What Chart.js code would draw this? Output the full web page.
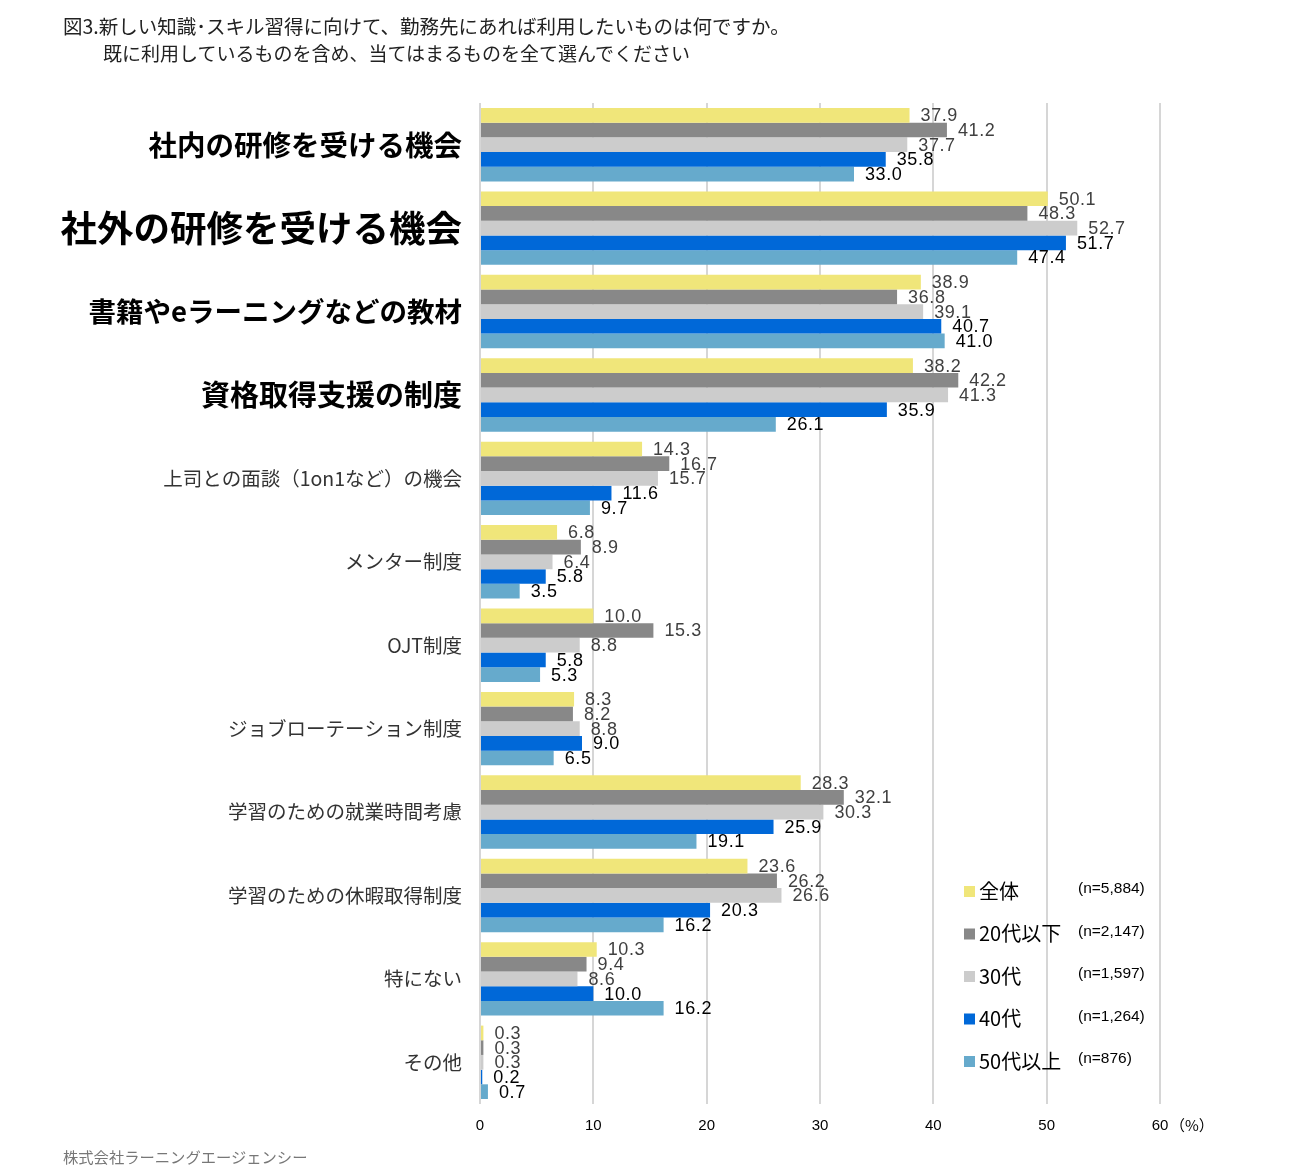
<!DOCTYPE html>
<html>
<head>
<meta charset="utf-8">
<script src="https://cdn.jsdelivr.net/npm/chart.js@4/dist/chart.umd.min.js"></script>
<style>
  body { margin: 0; background: #fff; }
  #wrap { position: relative; width: 1293px; height: 1175px; }
  .t { position: absolute; font-family: "Noto Sans CJK JP", sans-serif; white-space: nowrap; }
</style>
</head>
<body>
<div id="wrap">
  <canvas id="c" width="1293" height="1175"></canvas>
  <div class="t" style="left:63px;top:11px;font-size:19.5px;color:#222;">図3.新しい知識･スキル習得に向けて、勤務先にあれば利用したいものは何ですか。</div>
  <div class="t" style="left:103px;top:39px;font-size:19px;color:#222;">既に利用しているものを含め、当てはまるものを全て選んでください</div>
  <div class="t" style="left:63px;top:1145px;font-size:15.3px;color:#777;">株式会社ラーニングエージェンシー</div>
</div>
<script>
var categories = [
  "社内の研修を受ける機会",
  "社外の研修を受ける機会",
  "書籍やeラーニングなどの教材",
  "資格取得支援の制度",
  "上司との面談（1on1など）の機会",
  "メンター制度",
  "OJT制度",
  "ジョブローテーション制度",
  "学習のための就業時間考慮",
  "学習のための休暇取得制度",
  "特にない",
  "その他"
];
var seriesNames = ["全体", "20代以下", "30代", "40代", "50代以上"];
var sampleSizes = ["(n=5,884)", "(n=2,147)", "(n=1,597)", "(n=1,264)", "(n=876)"];
var all     = [37.9, 50.1, 38.9, 38.2, 14.3, 6.8, 10.0, 8.3, 28.3, 23.6, 10.3, 0.3];
var age20   = [41.2, 48.3, 36.8, 42.2, 16.7, 8.9, 15.3, 8.2, 32.1, 26.2, 9.4, 0.3];
var age30   = [37.7, 52.7, 39.1, 41.3, 15.7, 6.4, 8.8, 8.8, 30.3, 26.6, 8.6, 0.3];
var age40   = [35.8, 51.7, 40.7, 35.9, 11.6, 5.8, 5.8, 9.0, 25.9, 20.3, 10.0, 0.2];
var age50   = [33.0, 47.4, 41.0, 26.1, 9.7, 3.5, 5.3, 6.5, 19.1, 16.2, 16.2, 0.7];
var xTicks  = [0, 10, 20, 30, 40, 50, 60];

var colors = ["#F0E67A", "#888888", "#CCCCCC", "#0068D8", "#66AACC"];
var labelColors = ["#404040", "#404040", "#404040", "#000000", "#000000"];
var catFonts = [
  { family: "Noto Sans CJK JP", size: 28.5, weight: "bold" },
  { family: "Noto Sans CJK JP", size: 36.5, weight: "bold" },
  { family: "Noto Sans CJK JP", size: 27.5, weight: "bold" },
  { family: "Noto Sans CJK JP", size: 29, weight: "bold" }
];
var plainFont = { family: "Noto Sans CJK JP", size: 19.5, weight: "normal" };

var values = [all, age20, age30, age40, age50];
var datasets = seriesNames.map(function (n, i) {
  return {
    label: n,
    data: values[i],
    backgroundColor: colors[i],
    borderWidth: 0,
    barPercentage: 1,
    categoryPercentage: 0.88
  };
});

// value labels at bar ends
var valueLabels = {
  id: "valueLabels",
  afterDatasetsDraw: function (chart) {
    var ctx = chart.ctx;
    ctx.save();
    ctx.font = "18px 'Liberation Sans', Arial, sans-serif";
    ctx.letterSpacing = "0.6px";
    ctx.textBaseline = "middle";
    ctx.textAlign = "left";
    chart.data.datasets.forEach(function (ds, i) {
      var meta = chart.getDatasetMeta(i);
      ctx.fillStyle = labelColors[i];
      meta.data.forEach(function (el, j) {
        ctx.fillText(ds.data[j].toFixed(1), el.x + 11, el.y + 1);
      });
    });
    ctx.restore();
  }
};

// legend in the lower right
var sideLegend = {
  id: "sideLegend",
  afterDraw: function (chart) {
    var ctx = chart.ctx;
    ctx.save();
    ctx.textBaseline = "middle";
    seriesNames.forEach(function (n, i) {
      var y = 891 + i * 42.5;
      ctx.fillStyle = colors[i];
      ctx.fillRect(964, y - 5, 11, 11);
      ctx.fillStyle = "#000";
      ctx.font = "20px 'Noto Sans CJK JP', sans-serif";
      ctx.fillText(n, 979, y);
      ctx.font = "15.5px 'Liberation Sans', Arial, sans-serif";
      ctx.fillText(sampleSizes[i], 1078, y - 2);
    });
    ctx.font = "15px 'Noto Sans CJK JP', sans-serif";
    ctx.fillText("（%）", 1170, 1125);
    ctx.restore();
  }
};

new Chart(document.getElementById("c"), {
  type: "bar",
  data: { labels: categories, datasets: datasets },
  plugins: [valueLabels, sideLegend],
  options: {
    indexAxis: "y",
    responsive: false,
    animation: false,
    layout: { padding: { top: 103, right: 133, left: 0, bottom: 0 } },
    plugins: { legend: { display: false }, tooltip: { enabled: false } },
    scales: {
      x: {
        min: 0,
        max: 60,
        afterBuildTicks: function (s) { s.ticks = xTicks.map(function (v) { return { value: v }; }); },
        afterFit: function (s) { s.height = 71; },
        grid: { color: "#d6d6d6", lineWidth: 2, drawTicks: false },
        border: { display: false },
        ticks: {
          padding: 13,
          color: "#000",
          font: { family: "Liberation Sans", size: 15 }
        }
      },
      y: {
        afterFit: function (s) { s.width = 480; },
        grid: { display: false },
        border: { display: false },
        ticks: {
          padding: 10,
          autoSkip: false,
          color: function (c) { return c.index < 4 ? "#000" : "#333"; },
          font: function (c) { return c.index < 4 ? catFonts[c.index] : plainFont; }
        }
      }
    }
  }
});
</script>
</body>
</html>
